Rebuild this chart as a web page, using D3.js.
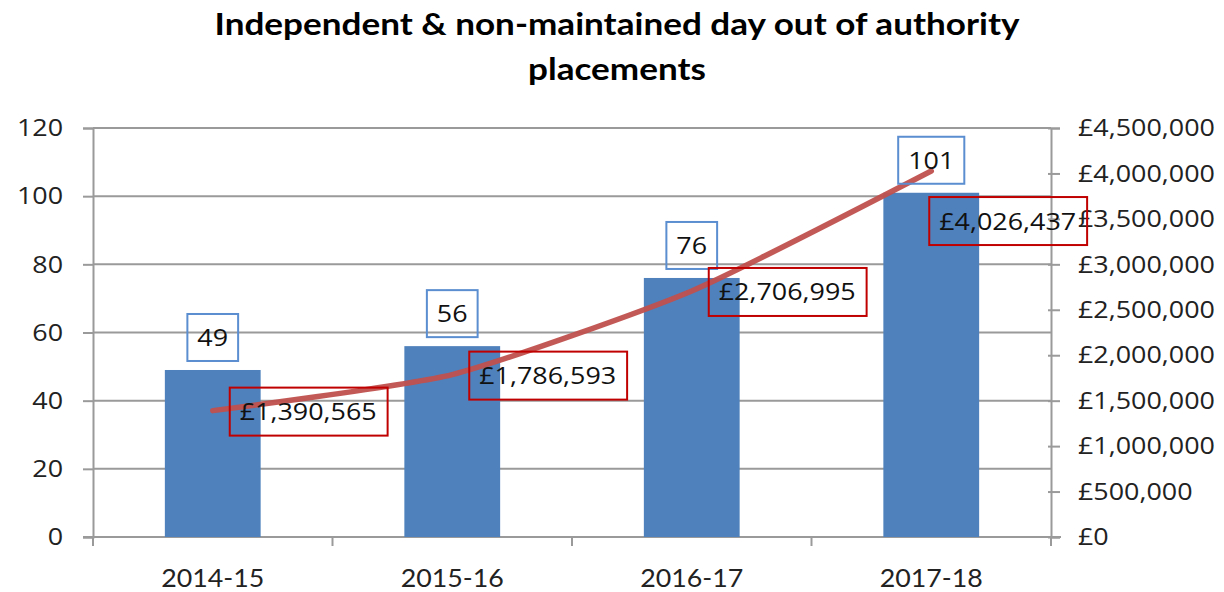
<!DOCTYPE html>
<html>
<head>
<meta charset="utf-8">
<script src="https://cdn.jsdelivr.net/npm/d3@7"></script>
<style>
  html, body { margin: 0; padding: 0; background: #fff; }
  svg { display: block; }
</style>
</head>
<body>
<svg id="chart" width="1224" height="592"></svg>
<script>
// ---- Data ----
const categories = ["2014-15", "2015-16", "2016-17", "2017-18"];
const placements = [49, 56, 76, 101];
const costs = [1390565, 1786593, 2706995, 4026437];
const leftTicks = [0, 20, 40, 60, 80, 100, 120];
const rightTicks = [0, 500000, 1000000, 1500000, 2000000, 2500000, 3000000, 3500000, 4000000, 4500000];
const titleLines = ["Independent & non-maintained day out of authority", "placements"];

// ---- Layout ----
const plot = { left: 93, right: 1051, top: 128, bottom: 537 };
const costLabelNudge = [[0, 0], [0, 0], [0, 0], [-19, 49]]; // manual label placement (as in source)
const STRETCH = 1.12; // source text is slightly wide

const svg = d3.select("#chart");
const gridColor = "#9a9a9a";
const textFont = "'Open Sans', sans-serif";
const catFont = "Lato, 'Open Sans', sans-serif";

function stretch(sel, f) {
  sel.each(function () {
    const n = this.getComputedTextLength();
    d3.select(this).attr("textLength", n * f).attr("lengthAdjust", "spacingAndGlyphs");
  });
  return sel;
}

const x = d3.scaleBand().domain(categories).range([plot.left, plot.right])
  .paddingInner(0.6).paddingOuter(0.3);
const yL = d3.scaleLinear().domain([0, 120]).range([plot.bottom, plot.top]);
const yR = d3.scaleLinear().domain([0, 4500000]).range([plot.bottom, plot.top]);
const cx = d => x(d) + x.bandwidth() / 2;

// Title
const titles = svg.append("g").selectAll("text").data(titleLines).join("text")
  .attr("x", 617).attr("y", (d, i) => 35 + i * 45)
  .attr("text-anchor", "middle")
  .attr("font-family", "Lato, sans-serif").attr("font-weight", "bold")
  .attr("font-size", 30).attr("fill", "#000")
  .text(d => d);
const t0 = titles.nodes()[0].getComputedTextLength();
stretch(titles, 805 / t0);

// Gridlines
svg.append("g").selectAll("line").data(leftTicks).join("line")
  .attr("x1", plot.left).attr("x2", plot.right)
  .attr("y1", d => yL(d)).attr("y2", d => yL(d))
  .attr("stroke", gridColor).attr("stroke-width", 2);

// Left axis
const leftAxis = svg.append("g").attr("transform", `translate(${plot.left},0)`)
  .call(d3.axisLeft(yL).tickValues(leftTicks).tickSize(10).tickPadding(20));
leftAxis.select(".domain").attr("stroke", gridColor).attr("stroke-width", 2);
leftAxis.selectAll(".tick line").attr("stroke", gridColor).attr("stroke-width", 2);
stretch(leftAxis.selectAll("text").attr("font-family", textFont).attr("font-size", 24).attr("fill", "#222"), STRETCH);

// Right axis
const rightAxis = svg.append("g").attr("transform", `translate(${plot.right},0)`)
  .call(d3.axisRight(yR).tickValues(rightTicks).tickSize(9).tickPadding(18)
    .tickFormat(d => "£" + d3.format(",")(d)));
rightAxis.select(".domain").attr("stroke", gridColor).attr("stroke-width", 2);
rightAxis.selectAll(".tick line").attr("stroke", gridColor).attr("stroke-width", 2)
  .attr("x1", -3);
stretch(rightAxis.selectAll("text").attr("font-family", textFont).attr("font-size", 24).attr("fill", "#222"), STRETCH);

// Bottom axis (ticks at category boundaries)
const step = x.step();
const bounds = d3.range(categories.length + 1).map(i => plot.left + i * step);
const bottom = svg.append("g");
bottom.append("line").attr("x1", plot.left - 10).attr("x2", plot.right + 10)
  .attr("y1", plot.bottom).attr("y2", plot.bottom)
  .attr("stroke", gridColor).attr("stroke-width", 2);
bottom.selectAll("line.tk").data(bounds).join("line").attr("class", "tk")
  .attr("x1", d => d).attr("x2", d => d)
  .attr("y1", plot.bottom).attr("y2", plot.bottom + 9)
  .attr("stroke", gridColor).attr("stroke-width", 2);
stretch(bottom.selectAll("text").data(categories).join("text")
  .attr("x", d => cx(d)).attr("y", 587)
  .attr("text-anchor", "middle")
  .attr("font-family", catFont).attr("font-size", 25).attr("fill", "#222")
  .text(d => d), 1.07);

// Bars
svg.append("g").selectAll("rect").data(categories).join("rect")
  .attr("x", d => x(d)).attr("width", x.bandwidth())
  .attr("y", (d, i) => yL(placements[i]))
  .attr("height", (d, i) => plot.bottom - yL(placements[i]))
  .attr("fill", "#4f81bd");

// Line
const line = d3.line().x(d => cx(d[0])).y(d => yR(d[1])).curve(d3.curveCardinal.tension(0.45));
svg.append("path").datum(categories.map((c, i) => [c, costs[i]]))
  .attr("d", line).attr("fill", "none")
  .attr("stroke", "#c0504d").attr("stroke-width", 5.5).attr("stroke-linecap", "round")
  .attr("opacity", 0.95);

// Bar labels (blue boxes)
const barLab = svg.append("g");
categories.forEach((c, i) => {
  const g = barLab.append("g");
  const t = g.append("text")
    .attr("x", cx(c)).attr("text-anchor", "middle")
    .attr("font-family", textFont).attr("font-size", 24).attr("fill", "#111")
    .text(placements[i]);
  const tw = t.node().getComputedTextLength() * STRETCH;
  stretch(t, STRETCH);
  const bw = tw + 20;
  const bh = 47;
  const top = yL(placements[i]) - 9 - bh;
  t.attr("y", top + bh / 2 + 8.5);
  g.insert("rect", "text")
    .attr("x", cx(c) - bw / 2).attr("y", top).attr("width", bw).attr("height", bh)
    .attr("fill", "none").attr("stroke", "#5b8ed0").attr("stroke-width", 2);
});

// Cost labels (red boxes)
const costLab = svg.append("g");
const fmt = d => "£" + d3.format(",")(d);
categories.forEach((c, i) => {
  const g = costLab.append("g");
  const left = cx(c) + 17 + costLabelNudge[i][0];
  const midY = yR(costs[i]) + 1 + costLabelNudge[i][1];
  const bh = 48;
  const t = g.append("text")
    .attr("x", left + 10).attr("y", midY + 8.5)
    .attr("font-family", textFont).attr("font-size", 24).attr("fill", "#111")
    .text(fmt(costs[i]));
  const tw = t.node().getComputedTextLength() * STRETCH;
  stretch(t, STRETCH);
  const bw = tw + 21;
  g.insert("rect", "text")
    .attr("x", left).attr("y", midY - bh / 2).attr("width", bw).attr("height", bh)
    .attr("fill", "none").attr("stroke", "#c00000").attr("stroke-width", 2);
});
</script>
</body>
</html>
